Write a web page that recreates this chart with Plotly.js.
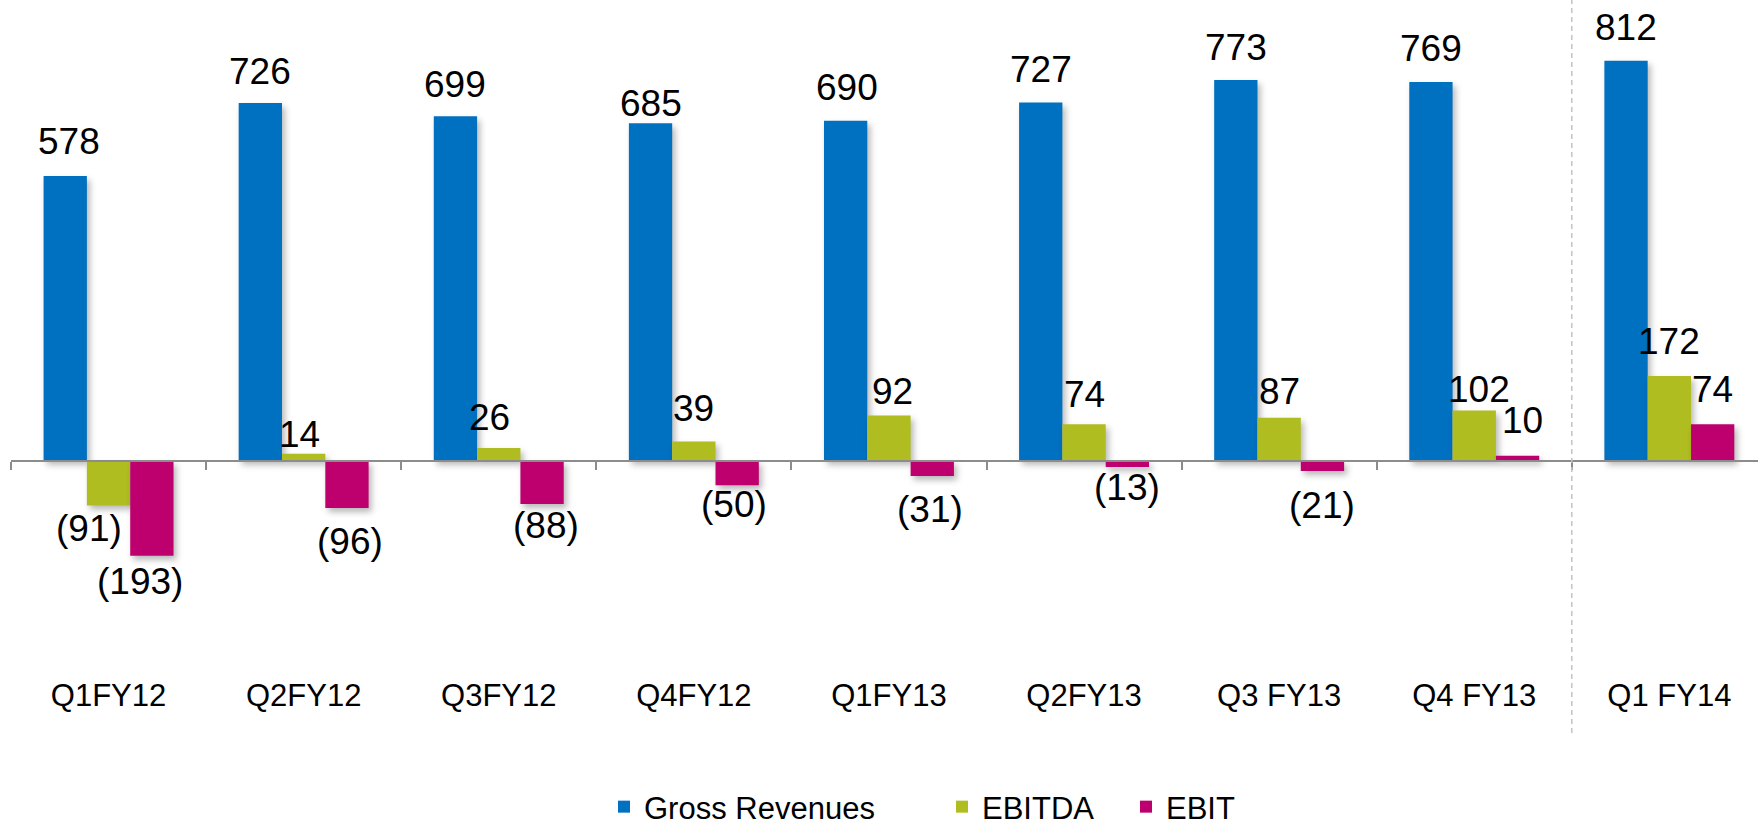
<!DOCTYPE html>
<html>
<head>
<meta charset="utf-8">
<script src="https://cdn.plot.ly/plotly-3.0.1.min.js"></script>
<style>
  html, body { margin: 0; padding: 0; background: #fff; }
  #chart { width: 1758px; height: 825px; }
  .barlayer .point path { filter: drop-shadow(3px 4px 3px rgba(0,0,0,0.28)); }
</style>
</head>
<body>
<div id="chart"></div>
<script>
// ---- data ----
const categories = ['Q1FY12', 'Q2FY12', 'Q3FY12', 'Q4FY12', 'Q1FY13', 'Q2FY13', 'Q3 FY13', 'Q4 FY13', 'Q1 FY14'];
const grossRevenues = [578, 726, 699, 685, 690, 727, 773, 769, 812];
const ebitda = [-91, 14, 26, 39, 92, 74, 87, 102, 172];
const ebit = [-193, -96, -88, -50, -31, -13, -21, 10, 74];
const seriesNames = ['Gross Revenues', 'EBITDA', 'EBIT'];

// ---- styles ----
const colors = ['#0070C0', '#AFBD21', '#BE006E'];
const FONT = '"Liberation Sans", Arial, Helvetica, sans-serif';
const bargap = 0.334;
// label spacing (px gap between label and bar end), and small horizontal nudges
const labelGap = [
  [21, 19, 19, 7, 20, 20, 19, 20, 20],
  [9, 6, 17, 20, 11, 17, 13, 8, 21],
  [12, 20, 7, 5, 20, 6, 20, 22, 22]
];
const labelDx = [
  [4, 0, 0, 0, 1, 0, 0, 0, 0],
  [-20, -4, -9, 0, 4, 0, 0, 5, 0],
  [-12, 3, 4, -3, -2, 0, 0, 5, 0]
];
// legend entry left edges (px) and vertical centre
const legendLeft = [604, 942, 1126];
const legendMid = 807;

const allSeries = [grossRevenues, ebitda, ebit];
const fmt = v => v < 0 ? '(' + Math.abs(v) + ')' : String(v);
const legendIds = ['legend', 'legend2', 'legend3'];

const traces = allSeries.map((vals, k) => ({
  type: 'bar',
  name: seriesNames[k],
  x: categories,
  y: vals,
  legend: legendIds[k],
  marker: { color: colors[k], line: { width: 0 } },
  hoverinfo: 'skip'
}));

const barW = (1 - bargap) / 3;
const annotations = [];
allSeries.forEach((vals, k) => {
  vals.forEach((v, i) => {
    const g = labelGap[k][i];
    annotations.push({
      x: i + (k - 1) * barW,
      y: v,
      xref: 'x', yref: 'y',
      text: fmt(v),
      showarrow: false,
      xanchor: 'center',
      yanchor: 'middle',
      xshift: labelDx[k][i],
      yshift: v >= 0 ? g + 13 : -(g + 14),
      font: { family: FONT, size: 37, color: '#000' }
    });
  });
});

const W = 1758, H = 825;
const marginL = 11;
const plotH = 680;      // plot area height in px
const zeroPx = 460.7;   // zero line from top
const pxPerUnit = 0.4926;
const yMax = zeroPx / pxPerUnit;
const yMin = -(plotH - zeroPx) / pxPerUnit;
const catW = 195.1;
const plotW = W - marginL;
const xMax = -0.5 + plotW / catW;

const layout = {
  width: W,
  height: H,
  margin: { l: marginL, r: 0, t: 0, b: H - plotH, autoexpand: false },
  paper_bgcolor: '#fff',
  plot_bgcolor: 'rgba(0,0,0,0)',
  barmode: 'group',
  bargap: bargap,
  bargroupgap: 0,
  font: { family: FONT, color: '#000' },
  showlegend: true,
  xaxis: {
    type: 'category',
    range: [-0.5, xMax],
    anchor: 'free',
    position: (0 - yMin) / (yMax - yMin),
    showline: true,
    linecolor: '#8c8c8c',
    linewidth: 2,
    ticks: 'outside',
    tickson: 'boundaries',
    ticklen: 8,
    tickwidth: 1.5,
    tickcolor: '#8c8c8c',
    showgrid: false,
    zeroline: false,
    ticklabelstandoff: 207,
    tickfont: { family: FONT, size: 31, color: '#000' },
    fixedrange: true
  },
  yaxis: {
    range: [yMin, yMax],
    visible: false,
    showgrid: false,
    zeroline: false,
    fixedrange: true
  },
  shapes: [{
    type: 'line',
    xref: 'x', yref: 'paper',
    x0: 7.5, x1: 7.5,
    y0: -(733 - plotH) / plotH, y1: 1,
    line: { color: '#c3c3c3', width: 1.5, dash: '5px,4px' }
  }],
  annotations: annotations
};

legendIds.forEach((id, k) => {
  layout[id] = {
    orientation: 'h',
    x: (legendLeft[k] - marginL) / plotW, xanchor: 'left',
    y: -(legendMid - plotH) / plotH, yanchor: 'middle',
    bgcolor: 'rgba(0,0,0,0)',
    borderwidth: 0,
    font: { family: FONT, size: 31, color: '#000' },
    itemclick: false, itemdoubleclick: false
  };
});

Plotly.newPlot('chart', traces, layout, { displayModeBar: false, responsive: false });
</script>
</body>
</html>
